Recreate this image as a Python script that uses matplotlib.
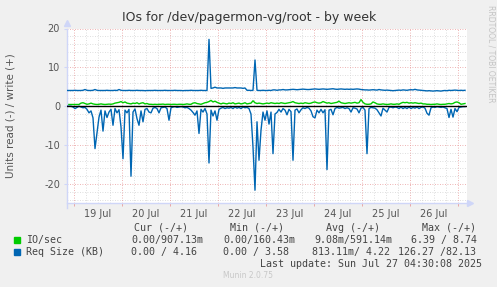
import matplotlib
matplotlib.use("Agg")
import matplotlib.pyplot as plt
import matplotlib.dates as mdates
import numpy as np
import pandas as pd

# hourly samples, 2025-07-18 20:30 .. 2025-07-27 04:30
start = "2025-07-18 20:30"
end = "2025-07-27 04:30"

# Req Size (KB), read side (drawn negative)
req_read = [
    0, 0, 0, 0.2, 0.6, 0.3, 0, 0.2, 0.4, 0.3,
    0.8, 1.7, 1.2, 3.0, 10.9, 6.9, 2.8, 1.0, 6.4, 1.2,
    2.9, 1.5, 0.8, 4.9, 0.6, 1.7, 0.9, 5.3, 13.5, 1.0,
    1.7, 0.8, 18.0, 1.5, 0.7, 3.2, 4.9, 1.2, 4.0, 0.8,
    0.6, 1.5, 1.7, 0.5, 0.3, 0.6, 1.7, 0.4, 0.3, 0.2,
    0.6, 3.6, 0.4, 0.2, 0.1, 0.3, 0.2, 0.1, 0.2, 0.4,
    0.3, 0.6, 1.0, 1.6, 2.3, 1.2, 7.0, 0.8, 1.5, 0.6,
    2.0, 14.6, 1.0, 2.5, 1.2, 3.6, 0.8, 0.5, 0.3, 0.6,
    0.4, 0.5, 0.3, 0.6, 0.2, 0.5, 0.3, 0.6, 0.2, 0.4,
    0.3, 0.6, 2.0, 10.5, 21.6, 4.0, 13.9, 6.2, 1.5, 3.6,
    1.2, 4.6, 1.5, 12.2, 2.0, 1.6, 0.8, 1.5, 0.6, 1.0,
    2.2, 0.8, 1.4, 13.9, 1.0, 0.7, 1.7, 0.9, 0.4, 0.6,
    0.3, 0.5, 1.2, 2.7, 3.0, 1.0, 1.7, 0.8, 1.7, 0.9,
    16.3, 1.0, 0.8, 2.2, 0.6, 0.3, 0.5, 0.4, 0.3, 0.6,
    0.4, 0.6, 1.5, 0.4, 0.5, 0.7, 1.7, 0.5, 0.3, 1.0,
    12.2, 0.6, 0.3, 0.4, 0.5, 0.9, 1.7, 2.5, 0.5, 1.0,
    1.5, 0.3, 0.2, 0.4, 0.2, 0.3, 0.6, 0.2, 0.6, 0.3,
    0.6, 0.2, 0.6, 0.3, 0.5, 0.2, 0.6, 0.3, 0.2, 0.5,
    1.8, 2.3, 0.4, 0.2, 0.3, 0.1, 0.2, 0.3, 0.2, 0.4,
    0.6, 2.9, 0.8, 2.8, 0.6, 1.4, 0.3, 0.2, 0.1, 0.1,
]

# Req Size (KB), write side
req_write = [
    4.05, 4.05, 4.05, 4.05, 4.1, 4.05, 4.05, 4.05, 4.1, 4.3,
    4.1, 4.05, 4.05, 4.1, 4.3, 4.1, 4.05, 4.05, 4.05, 4.05,
    4.1, 4.05, 4.05, 4.05, 4.1, 4.05, 4.3, 4.1, 4.05, 4.05,
    4.05, 4.1, 4.05, 4.05, 4.05, 4.1, 4.05, 4.05, 4.05, 4.0,
    4.05, 4.05, 4.05, 4.05, 4.1, 4.05, 4.05, 4.05, 4.05, 4.1,
    4.05, 4.05, 4.05, 4.05, 4.1, 4.05, 4.05, 4.05, 4.0, 4.05,
    4.05, 4.05, 4.1, 4.05, 4.05, 4.05, 4.05, 4.1, 4.05, 4.05,
    4.05, 17.2, 4.6, 4.7, 4.9, 4.7, 4.7, 4.7, 4.6, 4.7,
    4.7, 4.7, 4.7, 4.7, 4.8, 4.7, 4.7, 4.7, 4.6, 4.7,
    4.1, 4.1, 4.05, 4.1, 11.9, 4.1, 4.05, 4.05, 4.1, 4.05,
    4.05, 4.1, 4.05, 4.2, 4.2, 4.1, 4.2, 4.2, 4.3, 4.2,
    4.2, 4.25, 4.3, 4.35, 4.3, 4.25, 4.3, 4.35, 4.4, 4.35,
    4.3, 4.3, 4.35, 4.4, 4.45, 4.4, 4.35, 4.4, 4.45, 4.4,
    4.35, 4.4, 4.45, 4.5, 4.4, 4.35, 4.4, 4.45, 4.4, 4.35,
    4.4, 4.35, 4.4, 4.35, 4.4, 4.45, 4.4, 4.3, 4.25, 4.2,
    4.2, 4.15, 4.2, 4.25, 4.2, 4.15, 4.3, 4.2, 4.15, 4.1,
    4.15, 4.1, 4.05, 4.0, 4.05, 4.1, 4.15, 4.1, 4.2, 4.15,
    4.1, 4.2, 4.25, 4.2, 4.35, 4.2, 4.15, 4.1, 4.05, 4.0,
    3.95, 4.0, 3.95, 3.9, 3.95, 4.0, 3.95, 3.9, 4.0, 4.05,
    4.0, 4.1, 4.05, 4.1, 4.15, 4.1, 4.05, 4.1, 4.05, 4.1,
]

# IO/sec, write side
io_write = [
    0.45, 0.45, 0.45, 0.45, 0.45, 0.45, 0.45, 0.8, 0.9, 0.7,
    0.5, 0.6, 0.8, 0.6, 0.5, 0.45, 0.5, 0.6, 0.5, 0.45,
    0.5, 0.55, 0.5, 0.6, 0.8, 0.9, 1.0, 1.2, 0.9, 1.1,
    0.8, 0.7, 0.6, 0.8, 0.7, 0.9, 0.6, 0.8, 0.9, 0.6,
    0.7, 0.5, 0.5, 0.45, 0.5, 0.45, 0.5, 0.5, 0.55, 0.45,
    0.5, 0.5, 0.45, 0.5, 0.5, 0.45, 0.5, 0.5, 0.45, 0.5,
    0.6, 0.5, 0.5, 0.8, 0.9, 0.7, 0.6, 0.5, 0.7, 0.9,
    1.0, 1.2, 1.5, 1.1, 1.3, 1.0, 0.8, 0.6, 0.8, 0.7,
    0.6, 0.8, 0.7, 0.9, 0.6, 0.7, 0.8, 0.6, 0.7, 0.9,
    0.6, 0.7, 0.8, 1.4, 0.9, 0.7, 0.8, 0.7, 0.6, 0.7,
    0.8, 0.7, 0.9, 0.8, 0.7, 0.8, 0.7, 0.9, 0.8, 0.7,
    0.8, 0.9, 1.0, 1.2, 0.9, 0.8, 0.7, 0.8, 0.7, 0.9,
    0.8, 0.7, 0.8, 1.0, 1.1, 0.9, 0.8, 0.9, 1.2, 1.0,
    0.8, 0.9, 0.7, 0.8, 0.9, 1.0, 1.3, 0.9, 0.8, 0.7,
    0.8, 0.9, 0.8, 0.9, 1.0, 0.8, 0.9, 1.7, 1.0, 0.6,
    0.5, 0.5, 0.6, 1.1, 0.9, 0.6, 0.5, 0.5, 0.6, 0.5,
    0.45, 0.5, 0.6, 0.5, 0.5, 0.6, 0.5, 0.8, 1.0, 0.9,
    1.0, 0.8, 0.9, 0.8, 0.9, 0.8, 0.7, 0.8, 0.6, 0.6,
    0.5, 0.5, 0.45, 0.5, 0.5, 0.6, 0.5, 0.45, 0.5, 0.5,
    0.6, 0.7, 0.6, 0.7, 1.0, 1.1, 0.9, 0.5, 0.6, 0.7,
]

day_labels = ["19 Jul", "20 Jul", "21 Jul", "22 Jul", "23 Jul", "24 Jul", "25 Jul", "26 Jul"]

legend_names = ["IO/sec", "Req Size (KB)"]
legend_colors = ["#00CC00", "#0066B3"]
headers = ["Cur (-/+)", "Min (-/+)", "Avg (-/+)", "Max (-/+)"]
io_stats = ["0.00/907.13m", "0.00/160.43m", "9.08m/591.14m", "6.39 / 8.74"]
req_stats = ["0.00 / 4.16", "0.00 / 3.58", "813.11m/ 4.22", "126.27 /82.13"]
last_update = "Last update: Sun Jul 27 04:30:08 2025"

GREEN = "#00CC00"
BLUE = "#0066B3"
BG = "#F0F0F0"
AXC = "#CFD6F8"
W, H = 497, 287


def fx(x):
    return x / W


def fy(y):
    return 1 - y / H


times = pd.date_range(start, periods=len(req_write), freq="h")

fig = plt.figure(figsize=(W / 100, H / 100), dpi=100, facecolor=BG)
ax = fig.add_axes([fx(67), fy(203.4), 400 / W, 174.9 / H])
ax.set_facecolor("white")

t0 = pd.Timestamp(start)
t1 = pd.Timestamp(end)
ax.set_xlim(t0, t1)
ax.set_ylim(-25, 20)

# grid: minor gray, major red, munin style dots
dots = (0, (1, 2))
for v in np.arange(-24, 21, 2):
    if v % 10:
        ax.axhline(v, color="#d4d4d4", lw=0.6, ls=dots, zorder=0)
for d in pd.date_range("2025-07-19 06:00", end, freq="6h"):
    if d.hour:
        ax.axvline(d, color="#d4d4d4", lw=0.6, ls=dots, zorder=0)
for v in [-20, -10, 10, 20]:
    ax.axhline(v, color="#e89a9a", lw=0.6, ls=dots, zorder=0.5)
for d in pd.date_range("2025-07-19", end, freq="D"):
    ax.axvline(d, color="#e89a9a", lw=0.6, ls=dots, zorder=0.5)

ax.plot(times, io_write, color=GREEN, lw=1.0, zorder=2)
ax.plot(times, req_write, color=BLUE, lw=1.0, zorder=3)
ax.plot(times, -np.array(req_read), color=BLUE, lw=1.0, zorder=3)
ax.axhline(0, color="black", lw=1.0, zorder=4)

# ticks
ax.set_yticks([-20, -10, 0, 10, 20])
ax.set_yticklabels(["-20", "-10", "0", "10", "20"])
noon = pd.date_range("2025-07-19 12:00", periods=len(day_labels), freq="D")
ax.set_xticks(noon)
ax.set_xticklabels(day_labels)
ax.set_xticks(pd.date_range("2025-07-19", end, freq="D"), minor=True)
ax.tick_params(axis="x", which="major", length=0, pad=4, labelsize=7, labelcolor="#555555")
ax.tick_params(axis="x", which="minor", length=2.5, color="#e89a9a", width=0.6)
ax.tick_params(axis="y", length=2, color=AXC, pad=3, labelsize=7, labelcolor="#555555")

for s in ["top", "right"]:
    ax.spines[s].set_visible(False)
for s in ["left", "bottom"]:
    ax.spines[s].set_color(AXC)
    ax.spines[s].set_linewidth(1.0)
ax.spines["bottom"].set_bounds(mdates.date2num(t0), mdates.date2num(t1 + pd.Timedelta(hours=1.5)))
ax.spines["left"].set_bounds(-26.2, 20)
ax.plot([0], [1.03], marker="^", ms=4, color=AXC, transform=ax.transAxes, clip_on=False)
ax.plot([1.008], [0], marker=">", ms=4, color=AXC, transform=ax.transAxes, clip_on=False)

ax.set_ylabel("Units read (-) / write (+)", fontsize=7.5, color="#555555")
ax.yaxis.set_label_coords((16 - 67) / 400, 0.5)

fig.text(fx(249), fy(18), "IOs for /dev/pagermon-vg/root - by week",
         ha="center", va="center", fontsize=9, color="#333333")
fig.text(fx(491), fy(5), "RRDTOOL / TOBI OETIKER", rotation=270, ha="center", va="top",
         fontsize=5.5, color="#c4c4c4")

# legend block
mono = dict(family="DejaVu Sans Mono", fontsize=7.2, color="#444444", va="center")
for x, h in zip([134, 230.5, 326.5, 422.5], headers):
    fig.text(fx(x), fy(228), h, ha="left", **mono)
for i, (name, col) in enumerate(zip(legend_names, legend_colors)):
    y = 240 + 12 * i
    fig.patches.append(plt.Rectangle((fx(14), fy(y + 3)), 6 / W, 6 / H,
                                     transform=fig.transFigure, color=col))
    fig.text(fx(26.5), fy(y), name, ha="left", **mono)

for x, s in zip([131, 223, 314, 411], io_stats):
    fig.text(fx(x), fy(240), s, ha="left", **mono)
for x, s in zip([131, 223, 312, 398.5], req_stats):
    fig.text(fx(x), fy(252), s, ha="left", **mono)

fig.text(fx(482), fy(264), last_update, ha="right", **mono)
fig.text(fx(248), fy(276), "Munin 2.0.75", ha="center", va="center", fontsize=5.5, color="#c8c8c8")

fig.savefig("out.png", dpi=100, facecolor=BG)
